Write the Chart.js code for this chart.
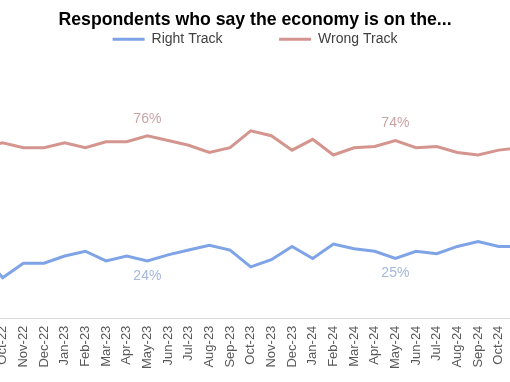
<!DOCTYPE html>
<html>
<head>
<meta charset="utf-8">
<script src="https://cdn.jsdelivr.net/npm/chart.js@4/dist/chart.umd.min.js"></script>
<style>
  html, body { margin: 0; padding: 0; background: #fff; overflow: hidden; }
  #wrap { position: absolute; left: -32px; top: 0; width: 574px; height: 382px; }
</style>
</head>
<body>
<div id="wrap"><canvas id="chart"></canvas></div>
<script>
// months (Sep-22 and Nov-24 sit just outside the visible crop)
const months = ['Sep-22','Oct-22','Nov-22','Dec-22',
  'Jan-23','Feb-23','Mar-23','Apr-23','May-23','Jun-23','Jul-23','Aug-23','Sep-23','Oct-23','Nov-23','Dec-23',
  'Jan-24','Feb-24','Mar-24','Apr-24','May-24','Jun-24','Jul-24','Aug-24','Sep-24','Oct-24','Nov-24'];

const rightTrack = [27, 17, 23, 23,
  26, 28, 24, 26, 24, 26.5, 28.5, 30.5, 28.5, 21.5, 24.5, 30,
  25, 31, 29, 28, 25, 28, 27, 30, 32, 30, 30];

const wrongTrack = [71, 73, 71, 71,
  73, 71, 73.5, 73.5, 76, 74, 72, 69, 71, 78, 76, 70,
  74.5, 68, 71, 71.5, 74, 71, 71.5, 69, 68, 70, 71];

const labelledMonths = ['May-23', 'May-24'];

const pointLabels = {
  id: 'pointLabels',
  afterDatasetsDraw(chart) {
    const ctx = chart.ctx;
    ctx.save();
    ctx.font = '14px "Liberation Sans", Arial, sans-serif';
    ctx.textAlign = 'center';
    ctx.textBaseline = 'middle';
    chart.data.datasets.forEach((ds, di) => {
      const meta = chart.getDatasetMeta(di);
      labelledMonths.forEach(m => {
        const i = months.indexOf(m);
        const pt = meta.data[i];
        ctx.fillStyle = ds.labelColor;
        ctx.fillText(Math.round(ds.data[i]) + '%', pt.x, pt.y + ds.labelOffset);
      });
    });
    ctx.restore();
  }
};

const ctx = document.getElementById('chart');

new Chart(ctx, {
  type: 'line',
  data: {
    labels: months,
    datasets: [{
      label: 'Right Track',
      data: rightTrack,
      borderColor: '#7ea3e6',
      backgroundColor: '#7ea3e6',
      borderWidth: 3,
      pointRadius: 0,
      tension: 0,
      labelColor: '#a6b7dc',
      labelOffset: 15
    }, {
      label: 'Wrong Track',
      data: wrongTrack,
      borderColor: '#d4958f',
      backgroundColor: '#d4958f',
      borderWidth: 3,
      pointRadius: 0,
      tension: 0,
      labelColor: '#caa3a3',
      labelOffset: -17
    }]
  },
  options: {
    responsive: true,
    maintainAspectRatio: false,
    animation: false,
    layout: { padding: { left: 14, right: 14, bottom: 6 } },
    plugins: {
      title: {
        display: true,
        text: 'Respondents who say the economy is on the...',
        color: '#000',
        font: { family: '"Liberation Sans", Arial, sans-serif', size: 17.7, weight: 'bold' },
        padding: { top: 9, bottom: 0 }
      },
      legend: {
        display: true,
        labels: {
          usePointStyle: true,
          pointStyle: 'line',
          pointStyleWidth: 32,
          color: '#404040',
          padding: 2,
          font: { family: '"Liberation Sans", Arial, sans-serif', size: 14 },
          generateLabels(chart) {
            return chart.data.datasets.map((ds, i) => ({
              text: i === 0 ? ds.label + '\u00a0'.repeat(14) : ds.label,
              strokeStyle: ds.borderColor,
              fillStyle: ds.borderColor,
              lineWidth: 3,
              pointStyle: 'line',
              fontColor: '#404040',
              datasetIndex: i
            }));
          }
        }
      },
      tooltip: { enabled: false }
    },
    scales: {
      x: {
        offset: false,
        grid: { display: false, drawTicks: false },
        border: { display: true, color: '#d9d9d9', width: 1 },
        ticks: {
          autoSkip: false,
          maxRotation: 90,
          minRotation: 90,
          padding: 7,
          color: '#595959',
          font: { family: '"Liberation Sans", Arial, sans-serif', size: 13 }
        }
      },
      y: {
        display: false,
        min: 0,
        max: 109
      }
    }
  },
  plugins: [pointLabels]
});
</script>
</body>
</html>
